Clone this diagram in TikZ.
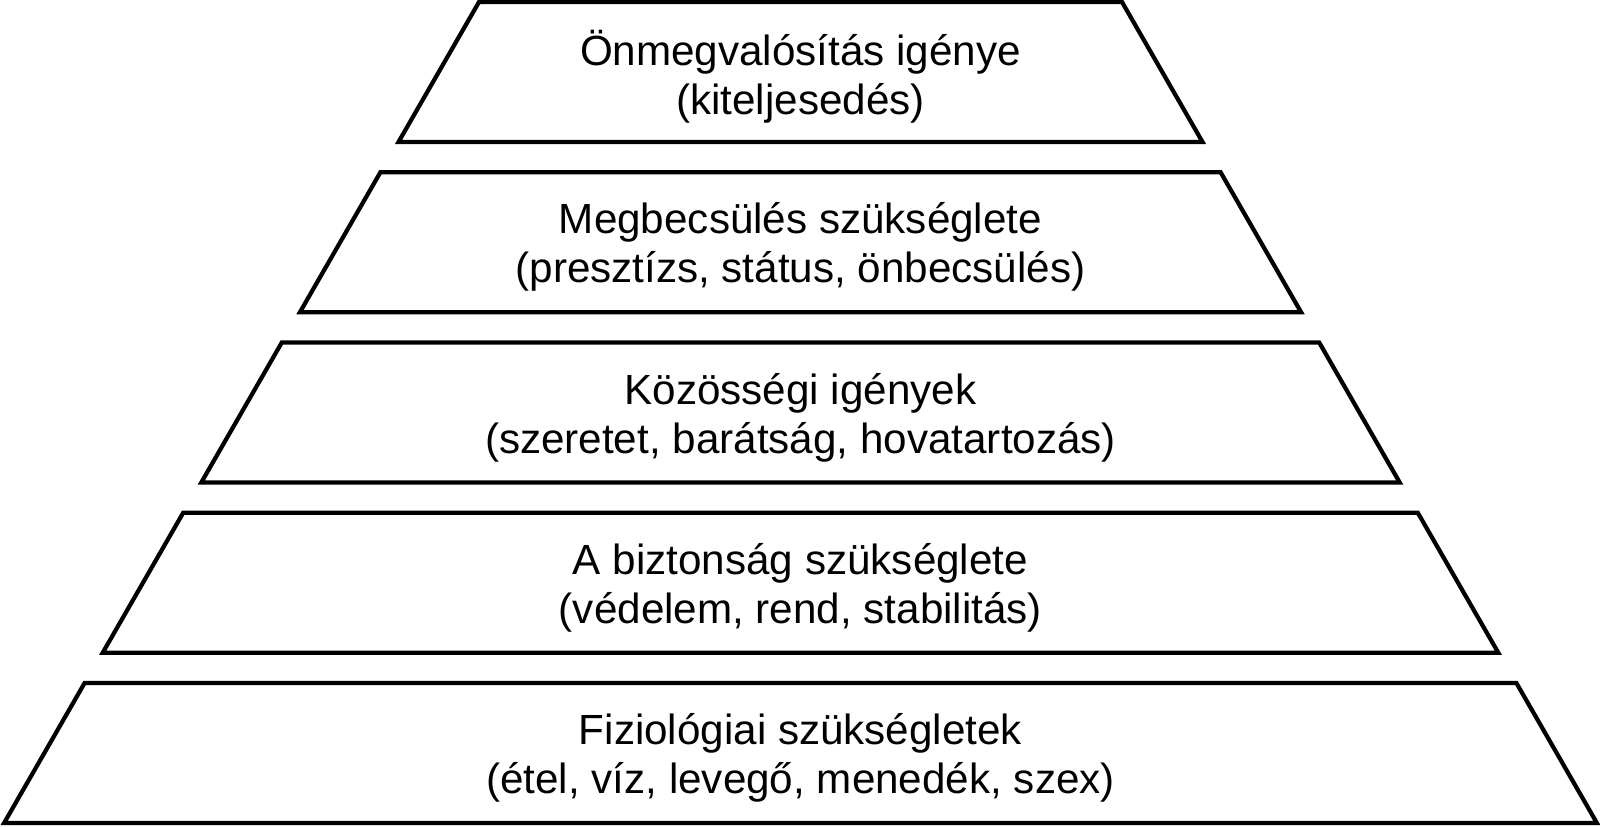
\documentclass[tikz,border=0pt]{standalone}
\usepackage{fontspec}
\setmainfont{Liberation Sans}
\usepackage{tikz}
\usetikzlibrary
  {
    positioning, % place nodes relative to other nodes
    calc,
  }

\begin{document}
\begin{tikzpicture}[x=0.01cm,y=-0.01cm,
    level/.style={draw, line width=1.2pt, line join=miter},
    need/.style={align=center, inner sep=0, font=\fontsize{12}{13.9}\selectfont}]
    \useasboundingbox (0,0) rectangle (1600,826);
    % five levels of the pyramid, top to bottom
    \foreach \i/\txt in {%
        0/{Önmegvalósítás igénye\\(kiteljesedés)},
        1/{Megbecsülés szükséglete\\(presztízs, státus, önbecsülés)},
        2/{Közösségi igények\\(szeretet, barátság, hovatartozás)},
        3/{A biztonság szükséglete\\(védelem, rend, stabilitás)},
        4/{Fiziológiai szükségletek\\(étel, víz, levegő, menedék, szex)}}
    {
      \pgfmathsetmacro\t{2+170.25*\i}
      \pgfmathsetmacro\a{321.5+98.6*\i}
      \pgfmathsetmacro\b{\a+80.5}
      \draw[level] (800.5-\a,\t) -- (800.5+\a,\t)
                   -- (800.5+\b,\t+140) -- (800.5-\b,\t+140) -- cycle;
      \node[need] (lvl\i) at (800.5,\t+75) {\txt};
    }
  \end{tikzpicture}
\end{document}
